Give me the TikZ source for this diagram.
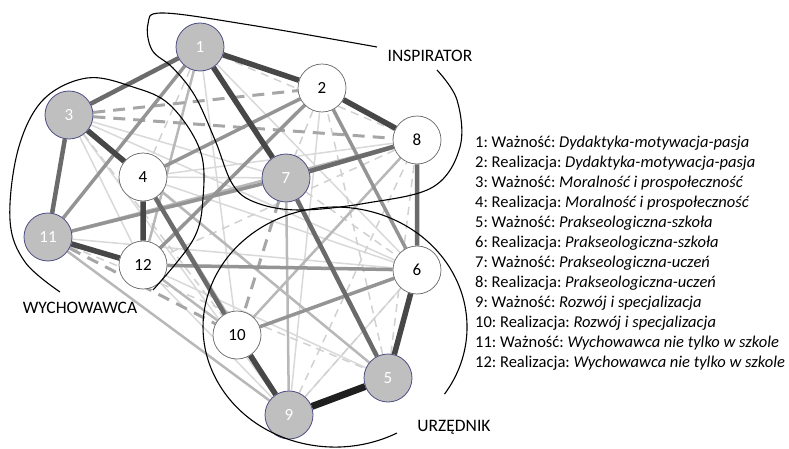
\documentclass[tikz,border=0pt]{standalone}
\usepackage{fontspec}
\setmainfont{Carlito}
\usepackage{tikz}
\usetikzlibrary{shapes.geometric, arrows.meta, backgrounds}
\frenchspacing

\tikzset{
  wazn/.style={circle, minimum size=48pt, inner sep=0pt, fill=black!25, draw=blue!30!black!70, line width=0.8pt, text=white, font=\fontsize{17}{20}\selectfont},
  real/.style={circle, minimum size=48pt, inner sep=0pt, fill=white, draw=black!60, line width=0.7pt, font=\fontsize{17}{20}\selectfont},
  sA/.style={black!88, line width=7pt},
  sB/.style={black!72, line width=5.5pt},
  sC/.style={black!58, line width=4.5pt},
  sD/.style={black!42, line width=3.5pt},
  sE/.style={black!28, line width=2.5pt},
  sF/.style={black!15, line width=1.5pt},
  dD/.style={black!35, line width=3pt, dash pattern=on 12pt off 8pt},
  dF/.style={black!18, line width=1.5pt, dash pattern=on 8pt off 6pt},
  grupa/.style={black, line width=1.1pt},
  etykieta/.style={font=\fontsize{17.5}{21}\selectfont},
  legenda/.style={anchor=west, inner sep=0pt, font=\fontsize{16.5}{20}\selectfont}
}

\begin{document}
\begin{tikzpicture}[x=1pt, y=-1pt]
        \useasboundingbox (0,0) rectangle (789,449);
        % Nodes
        \node[wazn] (n1) at (200,47) {1};
        \node[real] (n2) at (322,88) {2};
        \node[wazn] (n3) at (69,115) {3};
        \node[real] (n4) at (143,177) {4};
        \node[wazn] (n5) at (388,378) {5};
        \node[real] (n6) at (417,270) {6};
        \node[wazn] (n7) at (286,178) {7};
        \node[real] (n8) at (417,140) {8};
        \node[wazn] (n9) at (289,415) {9};
        \node[real] (n10) at (237,335) {10};
        \node[wazn] (n11) at (48,237) {11};
        \node[real] (n12) at (143,265) {12};
        \begin{pgfonlayer}{background}
        % Weak links
        \draw[sF] (n3) -- (n6) (n3) -- (n12) (n4) -- (n8) (n1) -- (n10) (n4) -- (n7)
                  (n3) -- (n7) (n12) -- (n5) (n4) -- (n5) (n11) -- (n6) (n2) -- (n9)
                  (n6) -- (n9) (n3) -- (n9) (n1) -- (n6) (n4) -- (n6) (n12) -- (n9);
        \draw[dF] (n1) -- (n4) (n1) -- (n12) (n2) -- (n7) (n8) -- (n12) (n9) -- (n8)
                  (n9) -- (n6) (n5) -- (n2) (n5) -- (n8) (n12) -- (n10) (n3) -- (n10)
                  (n11) -- (n5) (n1) -- (n8) (n7) -- (n6);
        \draw[sE] (n11) -- (n9) (n7) -- (n9) (n8) -- (n10) (n11) -- (n8) (n3) -- (n5)
                  (n4) -- (n9) (n1) -- (n12) (n12) -- (n10);
        \draw[dD] (n3) -- (n2) (n3) -- (n8) (n7) -- (n10) (n11) -- (n10);
        % Medium links
        \draw[sD] (n2) -- (n6) (n2) -- (n4) (n10) -- (n6) (n12) -- (n6) (n2) -- (n12)
                  (n11) -- (n7) (n1) -- (n11);
        \draw[sC] (n1) -- (n3) (n3) -- (n11) (n7) -- (n8) (n4) -- (n10) (n7) -- (n5)
                  (n8) -- (n6);
        % Strong links
        \draw[sB] (n1) -- (n2) (n2) -- (n8) (n1) -- (n7) (n3) -- (n4) (n4) -- (n12)
                  (n11) -- (n12) (n10) -- (n9) (n5) -- (n6);
        \draw[sA] (n9) -- (n5);
        \end{pgfonlayer}
        % Groups
        \draw[grupa] plot[smooth, tension=0.6] coordinates {(377,47) (250,25) (163,13) (148,24) (152,50)
              (173,68) (195,96) (215,140) (233,185) (257,203) (300,210) (367,203) (433,187)
              (460,147) (457,100) (437,70)};
        \draw[grupa] plot[smooth, tension=0.6] coordinates {(60,292) (25,262) (10,220) (18,150) (43,100)
              (87,78) (133,87) (170,105) (200,150) (203,198) (193,240) (153,290)};
        \draw[grupa] (397,433) arc[start angle=62, end angle=394, x radius=132, y radius=120];
        \node[etykieta] (inspirator) at (430,56) {INSPIRATOR};
        \node[etykieta] (wychowawca) at (80,308) {WYCHOWAWCA};
        \node[etykieta] (urzednik) at (454,427) {URZĘDNIK};
        % Legend
        \node[legenda] (l1) at (475,143) {1: Ważność: \textit{Dydaktyka-motywacja-pasja}};
        \node[legenda] (l2) at (475,163) {2: Realizacja: \textit{Dydaktyka-motywacja-pasja}};
        \node[legenda] (l3) at (475,183) {3: Ważność: \textit{Moralność i prospołeczność}};
        \node[legenda] (l4) at (475,203) {4: Realizacja: \textit{Moralność i prospołeczność}};
        \node[legenda] (l5) at (475,223) {5: Ważność: \textit{Prakseologiczna-szkoła}};
        \node[legenda] (l6) at (475,243) {6: Realizacja: \textit{Prakseologiczna-szkoła}};
        \node[legenda] (l7) at (475,263) {7: Ważność: \textit{Prakseologiczna-uczeń}};
        \node[legenda] (l8) at (475,283) {8: Realizacja: \textit{Prakseologiczna-uczeń}};
        \node[legenda] (l9) at (475,303) {9: Ważność: \textit{Rozwój i specjalizacja}};
        \node[legenda] (l10) at (475,323) {10: Realizacja: \textit{Rozwój i specjalizacja}};
        \node[legenda] (l11) at (475,343) {11: Ważność: \textit{Wychowawca nie tylko w szkole}};
        \node[legenda] (l12) at (475,363) {12: Realizacja: \textit{Wychowawca nie tylko w szkole}};
\end{tikzpicture}
\end{document}
